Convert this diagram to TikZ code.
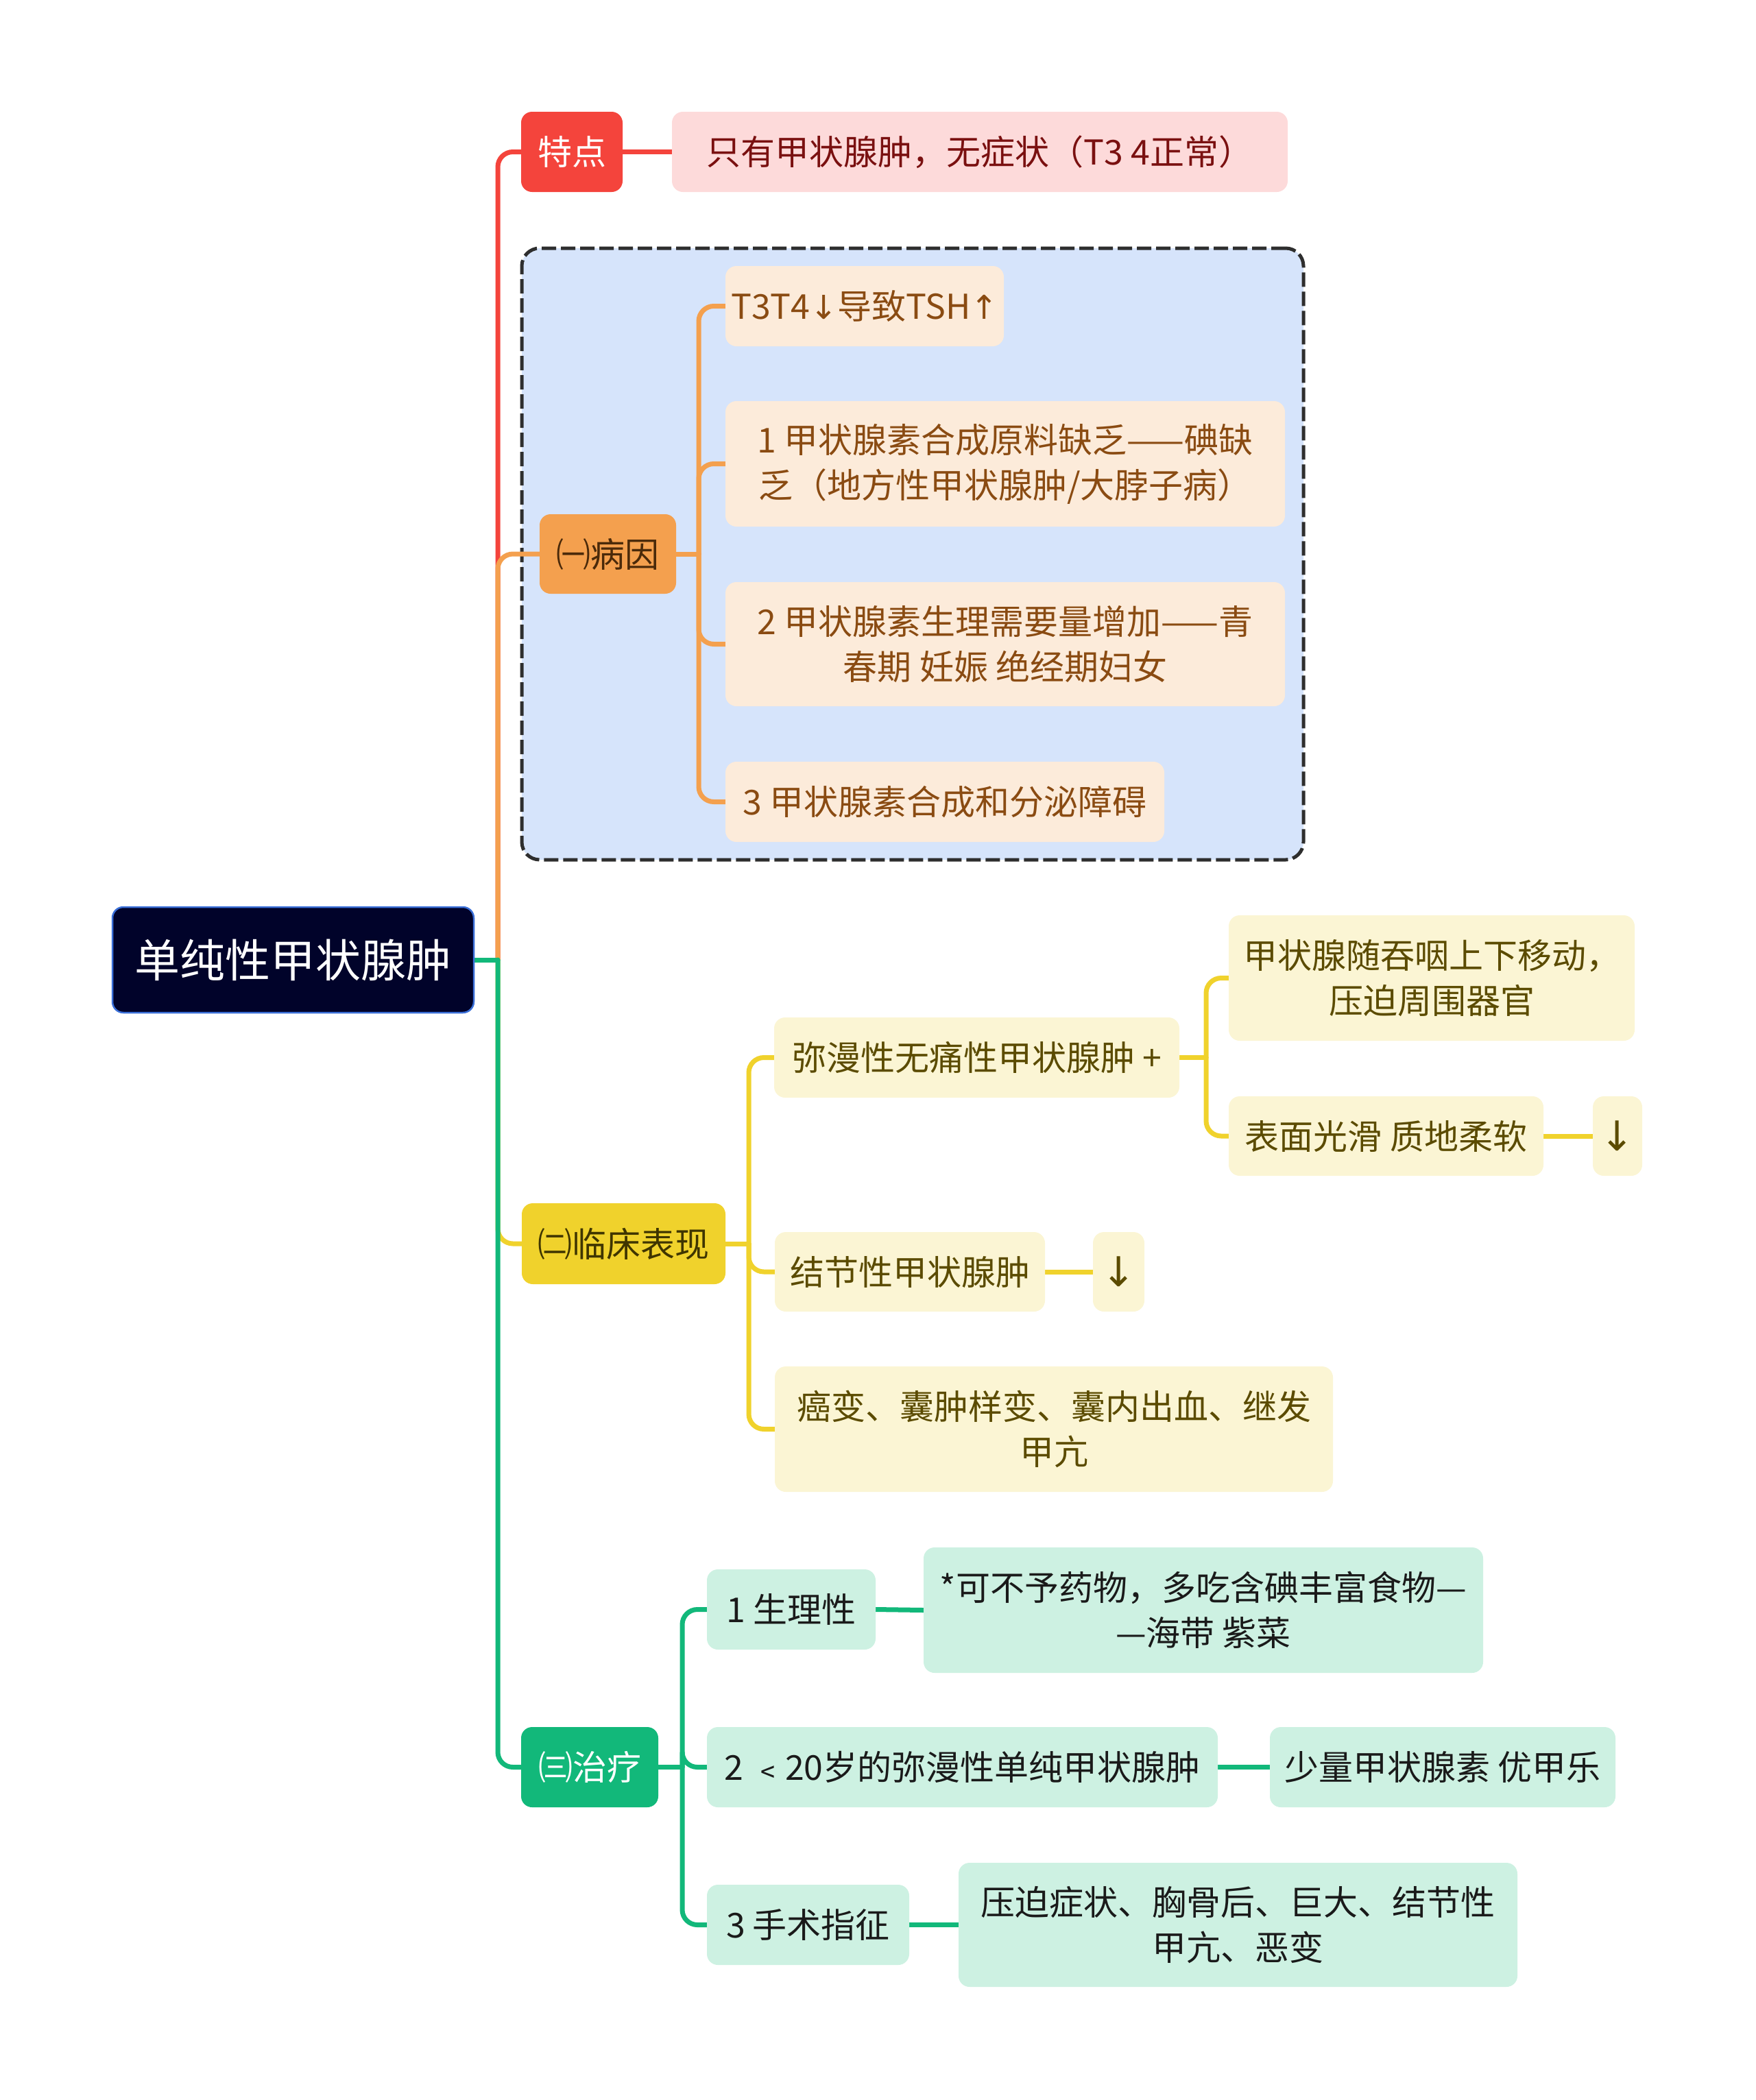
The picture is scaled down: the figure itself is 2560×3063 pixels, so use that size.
\documentclass[tikz,border=0pt]{standalone}
\usepackage{fontspec}
\newfontfamily\cjk{Noto Sans CJK SC}
\newfontfamily\arw{DejaVu Sans}
\usetikzlibrary{backgrounds}
\definecolor{rootfill}{HTML}{01032A}
\definecolor{rootborder}{HTML}{3A6FD8}
\definecolor{cred}{HTML}{F4443C}
\definecolor{corange}{HTML}{F4A04E}
\definecolor{cyellow}{HTML}{F0D22C}
\definecolor{cgreen}{HTML}{12B87A}
\definecolor{pinkfill}{HTML}{FDDADA}
\definecolor{pinktext}{HTML}{7A1010}
\definecolor{peachfill}{HTML}{FCEBDA}
\definecolor{peachtext}{HTML}{8A4B12}
\definecolor{oranget}{HTML}{4B2A0A}
\definecolor{ylwfill}{HTML}{FBF5D4}
\definecolor{ylwtext}{HTML}{5B4B00}
\definecolor{ylwhead}{HTML}{3F3500}
\definecolor{mintfill}{HTML}{CDF1E2}
\definecolor{minttext}{HTML}{1A1A1A}
\definecolor{grpfill}{HTML}{D6E4FB}
\definecolor{grpline}{HTML}{2E2E2E}
\pgfdeclarelayer{bglayer}
\pgfdeclarelayer{connlayer}
\pgfsetlayers{bglayer,connlayer,main}
\newcommand{\dnar}{{\arw\fontsize{48}{66}\selectfont ↓}}
\newcommand{\upar}{{\arw\fontsize{48}{66}\selectfont ↑}}
\newcommand{\bigdn}{{\arw\fontsize{60}{66}\selectfont ↓}}
\begin{document}
\begin{tikzpicture}[x=1pt,y=-1pt,
  sz/.style 2 args={minimum width=#1pt, minimum height=#2pt},
  box/.style={rectangle, rounded corners=16pt, inner sep=0pt, align=center,
    font=\cjk\fontsize{50}{66}\selectfont},
  rootbox/.style={box, fill=rootfill, draw=rootborder, line width=2.5pt, text=white,
    font=\cjk\fontsize{66}{78}\selectfont},
  lvred/.style={box, fill=cred, text=white},
  lvorange/.style={box, fill=corange, text=oranget},
  lvyellow/.style={box, fill=cyellow, text=ylwhead},
  lvgreen/.style={box, fill=cgreen, text=white},
  kpink/.style={box, fill=pinkfill, text=pinktext},
  kpeach/.style={box, fill=peachfill, text=peachtext},
  kylw/.style={box, fill=ylwfill, text=ylwtext},
  kmint/.style={box, fill=mintfill, text=minttext},
  conn/.style={line width=7pt, line cap=round},
  elbow/.style={conn, rounded corners=22pt}
]
\useasboundingbox (0,0) rectangle (2560,3063);

% group box
\begin{pgfonlayer}{bglayer}
\node[rectangle, rounded corners=26pt, fill=grpfill, draw=grpline, line width=5pt,
  dash pattern=on 21pt off 7pt, sz={1140}{892}] (grp) at (1331,808) {};
\end{pgfonlayer}

% root
\node[rootbox, sz={527}{154}] (root) at (427.5,1400) {单纯性甲状腺肿};

% level 1
\node[lvred, sz={148}{117}] (tedian) at (834,221.5) {特点};
\node[lvorange, sz={199}{116}] (bingyin) at (886.5,808) {㈠病因};
\node[lvyellow, sz={297}{118}] (linchuang) at (909.5,1814) {㈡临床表现};
\node[lvgreen, sz={200}{117}] (zhiliao) at (860,2577.5) {㈢治疗};

% 特点
\node[kpink, sz={898}{117}] (td1) at (1429,221.5) {只有甲状腺肿，无症状（T3 4正常）};

% 病因
\node[kpeach, sz={406}{117}] (by0) at (1261,446.5) {T3T4\dnar 导致TSH\upar};
\node[kpeach, sz={816}{183}] (by1) at (1466,676.5) {1 甲状腺素合成原料缺乏——碘缺\\乏（地方性甲状腺肿/大脖子病）};
\node[kpeach, sz={816}{181}] (by2) at (1466,939.5) {2 甲状腺素生理需要量增加——青\\春期 妊娠 绝经期妇女};
\node[kpeach, sz={640}{117}] (by3) at (1378,1169.5) {3 甲状腺素合成和分泌障碍};

% 临床表现
\node[kylw, sz={591}{117}] (lc1) at (1424.5,1542.5) {弥漫性无痛性甲状腺肿 +};
\node[kylw, sz={592}{183}] (lc1a) at (2088,1426.5) {甲状腺随吞咽上下移动，\\压迫周围器官};
\node[kylw, sz={459}{116}] (lc1b) at (2021.5,1657) {表面光滑 质地柔软};
\node[kylw, sz={72}{116}] (lc1c) at (2359,1657) {\bigdn};
\node[kylw, sz={394}{116}] (lc2) at (1327,1855) {结节性甲状腺肿};
\node[kylw, sz={75}{116}] (lc2a) at (1631.5,1855) {\bigdn};
\node[kylw, sz={814}{183}] (lc3) at (1537,2084.5) {癌变、囊肿样变、囊内出血、继发\\甲亢};

% 治疗
\node[kmint, sz={246}{117}] (zl1) at (1154,2347.5) {1 生理性};
\node[kmint, sz={816}{183}] (zl1a) at (1755,2348.5) {*可不予药物，多吃含碘丰富食物—\\—海带 紫菜};
\node[kmint, sz={745}{117}] (zl2) at (1403.5,2577.5) {2 ﹤20岁的弥漫性单纯甲状腺肿};
\node[kmint, sz={504}{117}] (zl2a) at (2104,2577.5) {少量甲状腺素 优甲乐};
\node[kmint, sz={295}{117}] (zl3) at (1178.5,2807.5) {3 手术指征};
\node[kmint, sz={815}{181}] (zl3a) at (1805.5,2807.5) {压迫症状、胸骨后、巨大、结节性\\甲亢、恶变};

% hubs
\coordinate (hub0) at (726,1400);
\coordinate (hubB) at (1019,808);
\coordinate (hubL) at (1092,1814);
\coordinate (hubM) at (1759,1542.5);
\coordinate (hubZ) at (995,2577.5);

\begin{pgfonlayer}{connlayer}
% level 1
\draw[elbow, cred] (hub0) |- (tedian.west);
\draw[elbow, corange] (hub0) |- (bingyin.west);
\draw[elbow, cyellow] (hub0) |- (linchuang.west);
\draw[elbow, cgreen] (hub0) |- (zhiliao.west);
\draw[conn, cgreen] (root.east) -- (hub0);
% 特点
\draw[conn, cred] (tedian.east) -- (td1.west);
% 病因
\draw[conn, corange] (bingyin.east) -- (hubB);
\draw[elbow, corange] (hubB) |- (by0.west);
\draw[elbow, corange] (hubB) |- (by1.west);
\draw[elbow, corange] (hubB) |- (by2.west);
\draw[elbow, corange] (hubB) |- (by3.west);
% 临床表现
\draw[conn, cyellow] (linchuang.east) -- (hubL);
\draw[elbow, cyellow] (hubL) |- (lc1.west);
\draw[elbow, cyellow] (hubL) |- (lc2.west);
\draw[elbow, cyellow] (hubL) |- (lc3.west);
\draw[conn, cyellow] (lc1.east) -- (hubM);
\draw[elbow, cyellow] (hubM) |- (lc1a.west);
\draw[elbow, cyellow] (hubM) |- (lc1b.west);
\draw[conn, cyellow] (lc1b.east) -- (lc1c.west);
\draw[conn, cyellow] (lc2.east) -- (lc2a.west);
% 治疗
\draw[conn, cgreen] (zhiliao.east) -- (hubZ);
\draw[elbow, cgreen] (hubZ) |- (zl1.west);
\draw[elbow, cgreen] (hubZ) |- (zl2.west);
\draw[elbow, cgreen] (hubZ) |- (zl3.west);
\draw[conn, cgreen] (zl1.east) -- (zl1a.west);
\draw[conn, cgreen] (zl2.east) -- (zl2a.west);
\draw[conn, cgreen] (zl3.east) -- (zl3a.west);
\end{pgfonlayer}
\end{tikzpicture}
\end{document}
